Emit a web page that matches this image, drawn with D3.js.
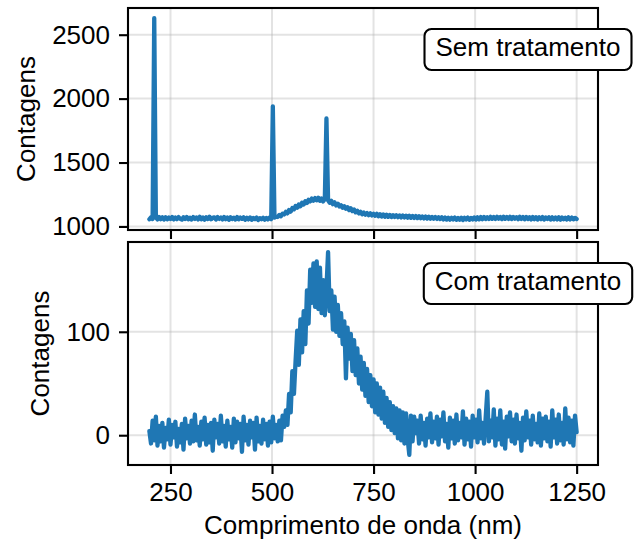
<!DOCTYPE html>
<html>
<head>
<meta charset="utf-8">
<script src="https://cdn.jsdelivr.net/npm/d3@7"></script>
<style>
  body { margin: 0; background: #fff; }
  svg { display: block; font-family: "Liberation Sans", Arial, sans-serif; }
</style>
</head>
<body>
<svg id="chart" width="634" height="544"></svg>
<script>
// sampling grid of the spectrometer (nm), 4 nm apart
const wavelength = d3.range(198, 1251, 4);

// "Sem tratamento" counts, rows of 10 samples (first wavelength of row in comment)
const semTratamento = [
  /*198*/ 1056, 1072, 1058, 2630, 1070, 1055, 1073, 1057, 1071, 1054,
  /*238*/ 1072, 1056, 1070, 1058, 1074, 1055, 1069, 1057, 1073, 1059,
  /*278*/ 1053, 1071, 1058, 1074, 1056, 1068, 1054, 1073, 1059, 1070,
  /*318*/ 1055, 1075, 1057, 1069, 1053, 1072, 1058, 1076, 1056, 1067,
  /*358*/ 1071, 1054, 1073, 1059, 1069, 1055, 1074, 1057, 1070, 1052,
  /*398*/ 1072, 1058, 1068, 1054, 1073, 1056, 1069, 1059, 1071, 1053,
  /*438*/ 1067, 1055, 1070, 1052, 1066, 1057, 1069, 1051, 1065, 1056,
  /*478*/ 1068, 1053, 1066, 1055, 1069, 1057, 1940, 1069, 1076, 1074,
  /*518*/ 1090, 1080, 1100, 1094, 1114, 1102, 1128, 1116, 1144, 1134,
  /*558*/ 1160, 1146, 1172, 1158, 1186, 1172, 1198, 1184, 1208, 1196,
  /*598*/ 1218, 1202, 1222, 1204, 1224, 1200, 1218, 1196, 1214, 1845,
  /*638*/ 1204, 1186, 1200, 1174, 1188, 1164, 1178, 1156, 1166, 1146,
  /*678*/ 1158, 1138, 1150, 1128, 1142, 1120, 1132, 1110, 1122, 1102,
  /*718*/ 1114, 1096, 1108, 1092, 1104, 1088, 1102, 1086, 1098, 1084,
  /*758*/ 1098, 1080, 1096, 1078, 1094, 1076, 1092, 1075, 1090, 1074,
  /*798*/ 1088, 1074, 1087, 1072, 1086, 1071, 1085, 1070, 1084, 1069,
  /*838*/ 1083, 1068, 1082, 1067, 1081, 1066, 1080, 1065, 1078, 1063,
  /*878*/ 1077, 1062, 1076, 1061, 1074, 1060, 1073, 1059, 1072, 1058,
  /*918*/ 1071, 1055, 1069, 1054, 1068, 1053, 1067, 1054, 1069, 1052,
  /*958*/ 1066, 1053, 1068, 1051, 1067, 1054, 1069, 1052, 1066, 1055,
  /*998*/ 1070, 1054, 1071, 1056, 1073, 1057, 1074, 1058, 1072, 1059,
  /*1038*/ 1075, 1060, 1074, 1059, 1076, 1061, 1073, 1058, 1075, 1060,
  /*1078*/ 1073, 1059, 1076, 1058, 1074, 1061, 1072, 1057, 1075, 1059,
  /*1118*/ 1073, 1056, 1074, 1058, 1071, 1055, 1073, 1057, 1072, 1054,
  /*1158*/ 1071, 1057, 1073, 1055, 1070, 1058, 1072, 1054, 1071, 1056,
  /*1198*/ 1069, 1055, 1072, 1053, 1070, 1056, 1068, 1054, 1071, 1055,
  /*1238*/ 1069, 1056, 1067, 1058
];

// "Com tratamento" counts, same grid
const comTratamento = [
  /*198*/ 4, -8, 14, -5, 18, -10, 9, -6, 12, -12,
  /*238*/ 7, -4, 15, -9, 10, -2, 13, -11, 6, -7,
  /*278*/ 11, -14, 16, -3, 9, -8, 14, -6, 20, -5,
  /*318*/ 8, -10, 13, -4, 17, -9, 10, -7, 12, -15,
  /*358*/ 15, -2, 11, -8, 19, -6, 9, -11, 14, -4,
  /*398*/ 8, -12, 16, -7, 13, -3, 11, -16, 18, -5,
  /*438*/ 10, -9, 14, -2, 12, -14, 17, -6, 9, -8,
  /*478*/ 15, -4, 11, -10, 13, -7, 18, -3, 10, -6,
  /*518*/ 14, -5, 19, 8, 24, 10, 40, 22, 62, 40,
  /*558*/ 72, 101, 68, 112, 80, 120, 88, 140, 108, 160,
  /*598*/ 128, 166, 124, 168, 122, 162, 118, 150, 116, 142,
  /*638*/ 177, 120, 140, 102, 134, 100, 126, 96, 118, 88,
  /*678*/ 110, 55, 104, 74, 98, 62, 92, 58, 84, 50,
  /*718*/ 76, 44, 70, 38, 64, 32, 58, 28, 54, 22,
  /*758*/ 50, 20, 46, 16, 42, 12, 36, 8, 32, 5,
  /*798*/ 28, 2, 26, -3, 24, -5, 22, -8, 21, -4,
  /*838*/ -19, 19, -6, 18, 2, 14, -8, 19, -4, 12,
  /*878*/ -10, 16, -2, 21, -7, 13, -3, 18, -9, 15,
  /*918*/ -1, 22, -6, 11, -12, 17, -3, 14, -8, 20,
  /*958*/ -5, 12, -2, 23, -9, 16, -4, 13, -11, 19,
  /*998*/ -2, 15, -7, 24, -3, 12, -8, 17, 42, -6,
  /*1038*/ 14, -2, 25, -10, 16, -4, 24, -9, 13, -13,
  /*1078*/ 18, -1, 22, -6, 15, -8, 20, -3, 12, -15,
  /*1118*/ 17, -5, 23, -2, 14, -9, 19, -4, 11, -7,
  /*1158*/ 21, -10, 16, -3, 18, -6, 13, -11, 24, -2,
  /*1198*/ 15, -8, 20, -5, 12, -9, 26, -4, 17, -7,
  /*1238*/ 14, -10, 19, 3
];

const xTicks = [250, 500, 750, 1000, 1250];
const topTicks = [1000, 1500, 2000, 2500];
const bottomTicks = [0, 100];

const xLabel = "Comprimento de onda (nm)";
const yLabel = "Contagens";
const panelNames = ["Sem tratamento", "Com tratamento"];

const blue = "#1f77b4";
const fontSize = 26;
const left = 128, right = 598;

const svg = d3.select("#chart");

// matplotlib-like 5% padding on the data range
function padded(ext) {
  const m = (ext[1] - ext[0]) * 0.05;
  return [ext[0] - m, ext[1] + m];
}

const x = d3.scaleLinear()
  .domain(padded(d3.extent(wavelength)))
  .range([left, right]);

const panels = [
  { values: semTratamento, ticks: topTicks, top: 8, bottom: 230, name: panelNames[0],
    labelX: 35, boxTop: 29, showX: false },
  { values: comTratamento, ticks: bottomTicks, top: 242, bottom: 465, name: panelNames[1],
    labelX: 49, boxTop: 263, showX: true }
];

panels.forEach(p => {
  const y = d3.scaleLinear()
    .domain(padded(d3.extent(p.values)))
    .range([p.bottom, p.top]);

  const g = svg.append('g');

  // grid
  g.append('g').selectAll('line')
    .data(xTicks)
    .enter()
    .append('line')
    .attr('x1', d => x(d)).attr('x2', d => x(d))
    .attr('y1', p.top).attr('y2', p.bottom)
    .attr('stroke', '#b0b0b0').attr('stroke-opacity', 0.35).attr('stroke-width', 2);

  g.append('g').selectAll('line')
    .data(p.ticks)
    .enter()
    .append('line')
    .attr('x1', left).attr('x2', right)
    .attr('y1', d => y(d)).attr('y2', d => y(d))
    .attr('stroke', '#b0b0b0').attr('stroke-opacity', 0.35).attr('stroke-width', 2);

  // spectrum
  const line = d3.line()
    .x((d, i) => x(wavelength[i]))
    .y(d => y(d));

  g.append('path')
    .datum(p.values)
    .attr('d', line)
    .attr('fill', 'none')
    .attr('stroke', blue)
    .attr('stroke-width', 4.3)
    .attr('stroke-linejoin', 'round')
    .attr('stroke-linecap', 'round');

  // axes
  const yAxis = d3.axisLeft(y).tickValues(p.ticks).tickSize(9).tickPadding(9)
    .tickFormat(d3.format('d'));
  const yG = g.append('g').attr('transform', `translate(${left},0)`).call(yAxis);

  const xAxis = d3.axisBottom(x).tickValues(xTicks).tickSize(9).tickPadding(9)
    .tickFormat(p.showX ? d3.format('d') : '');
  const xG = g.append('g').attr('transform', `translate(0,${p.bottom})`).call(xAxis);

  [yG, xG].forEach(a => {
    a.select('.domain').remove();
    a.selectAll('line').attr('stroke', '#000').attr('stroke-width', 2.1);
    a.selectAll('text')
      .attr('fill', '#000')
      .attr('font-size', fontSize)
      .attr('font-family', '"Liberation Sans", Arial, sans-serif');
  });

  // frame
  g.append('rect')
    .attr('x', left).attr('y', p.top)
    .attr('width', right - left).attr('height', p.bottom - p.top)
    .attr('fill', 'none').attr('stroke', '#000').attr('stroke-width', 2.1);

  // y label
  g.append('text')
    .attr('transform', `translate(${p.labelX},${(p.top + p.bottom) / 2}) rotate(-90)`)
    .attr('text-anchor', 'middle')
    .attr('font-size', fontSize)
    .text(yLabel);

  // panel name box
  const boxG = g.append('g');
  const cx = 528;
  const txt = boxG.append('text')
    .attr('x', cx)
    .attr('y', p.boxTop + 27)
    .attr('text-anchor', 'middle')
    .attr('font-size', fontSize)
    .text(p.name);
  const w = txt.node().getComputedTextLength() + 22;
  boxG.insert('rect', 'text')
    .attr('x', cx - w / 2).attr('y', p.boxTop)
    .attr('width', w).attr('height', 41)
    .attr('rx', 7).attr('ry', 7)
    .attr('fill', '#fff').attr('stroke', '#000').attr('stroke-width', 2.1);
});

svg.append('text')
  .attr('x', (left + right) / 2)
  .attr('y', 534)
  .attr('text-anchor', 'middle')
  .attr('font-size', fontSize)
  .text(xLabel);
</script>
</body>
</html>
